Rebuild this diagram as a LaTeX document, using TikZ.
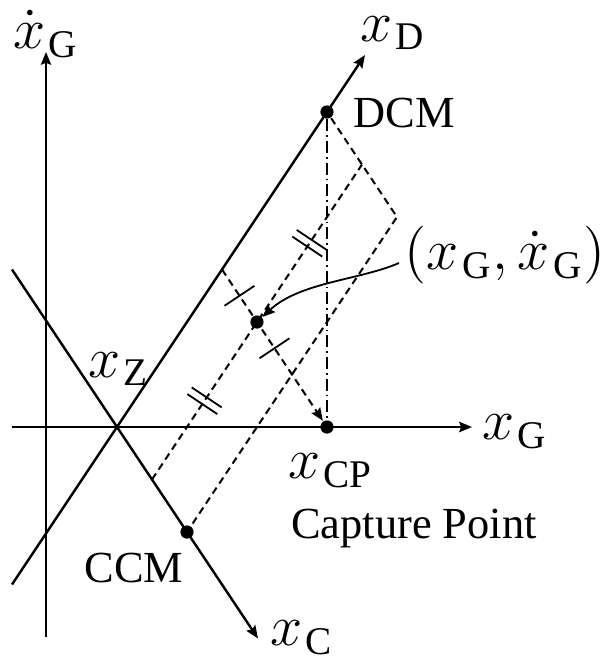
\documentclass[tikz,border=0pt]{standalone}
\usepackage{amsmath}
\usepackage[no-math]{fontspec}
\setmainfont{Liberation Serif}
\usetikzlibrary{arrows.meta,calc}
\newcommand{\sbt}[1]{_{\mkern1.5mu\text{#1}}}
\begin{document}
\begin{tikzpicture}[x=0.25pt,y=-0.25pt,
  font=\fontsize{11.1}{13}\selectfont,
  tip/.style={-{Stealth[length=3.2pt,width=2.6pt,inset=0.5pt]}},
  axis/.style={line width=0.6pt},
  thinaxis/.style={line width=0.35pt},
  dsh/.style={line width=0.5pt,dash pattern=on 1.8pt off 1.2pt},
  ddot/.style={line width=0.3pt,dash pattern=on 3pt off 1pt on 0.4pt off 1pt},
  dot/.style={circle,fill=black,inner sep=0pt,minimum size=3.3pt},
  lbl/.style={inner sep=0pt},
  mlbl/.style={inner sep=0pt,font=\fontsize{14}{16}\selectfont},
  tick/.style={line width=0.45pt}]
\useasboundingbox (0,0) rectangle (602,658);
% coordinates
\coordinate (O) at (117,427);
\coordinate (xgs) at (12,427);
\coordinate (xge) at (472,427);
\coordinate (vgs) at (46,637);
\coordinate (vge) at (46,52);
\coordinate (xds) at (12,584.5);
\coordinate (xde) at (365,55);
\coordinate (xcs) at (12,269.5);
\coordinate (xce) at (258,638.5);
\coordinate (K) at (397,217);
\coordinate (A) at (222,269.5);
\coordinate (B) at (292,374.5);
\coordinate (C) at (152,479.5);
\coordinate (D) at (362,164.5);
% axes
\draw[thinaxis,tip] (vgs) -- (vge);
\draw[axis,tip] (xgs) -- (xge);
\draw[axis,tip] (xds) -- (xde);
\draw[axis,tip] (xcs) -- (xce);
% points
\node[dot] (dcm) at (327,112) {};
\node[dot] (ccm) at (187,532) {};
\node[dot] (cp) at (327,427) {};
\node[dot] (P) at (257,322) {};
% construction lines
\draw[dsh] (dcm) -- (K) -- (ccm);
\draw[dsh] (C) -- (D);
\draw[dsh,tip] (A) -- (cp);
\draw[ddot] (dcm) -- (cp);
% tick marks
\coordinate (M1) at ($(A)!0.5!(P)$);
\coordinate (M2) at ($(P)!0.5!(B)$);
\draw[tick] ($(M1)!4.5pt!90:(P)$) -- ($(M1)!4.5pt!-90:(P)$);
\draw[tick] ($(M2)!4.5pt!90:(B)$) -- ($(M2)!4.5pt!-90:(B)$);
\coordinate (M3) at ($(C)!0.5!(P)$);
\coordinate (M4) at ($(P)!0.5!(D)$);
\foreach \m/\t in {M3/P,M4/D}{
  \coordinate (ma) at ($(\m)!1pt!(\t)$);
  \coordinate (mb) at ($(\m)!-1pt!(\t)$);
  \draw[tick] ($(ma)!4.5pt!90:(\t)$) -- ($(ma)!4.5pt!-90:(\t)$);
  \draw[tick] ($(mb)!4.5pt!90:(\t)$) -- ($(mb)!4.5pt!-90:(\t)$);
}
% labels
\node[mlbl] (lvg) at (46,34) {$\dot{x}\sbt{G}$};
\node[mlbl] (lxd) at (393,33) {$x\sbt{D}$};
\node[lbl,anchor=west] (ldcm) at (353,113) {DCM};
\node[mlbl] (lpt) at (505,255) {$(x\sbt{G},\dot{x}\sbt{G})$};
\node[mlbl] (lxz) at (119,369) {$x\sbt{Z}$};
\node[mlbl] (lxg) at (515,432) {$x\sbt{G}$};
\node[mlbl] (lxcp) at (331,471) {$x\sbt{CP}$};
\node[lbl] (lcap) at (414,529) {Capture Point};
\node[lbl] (lccm) at (134,568) {CCM};
\node[mlbl] (lxc) at (302,638) {$x\sbt{C}$};
% curved pointer
\coordinate (ps) at ($(lpt.west)+(-5,8)$);
\draw[line width=0.45pt,tip] (ps) .. controls (360,280) and (300,282) .. (P);
\end{tikzpicture}
\end{document}
